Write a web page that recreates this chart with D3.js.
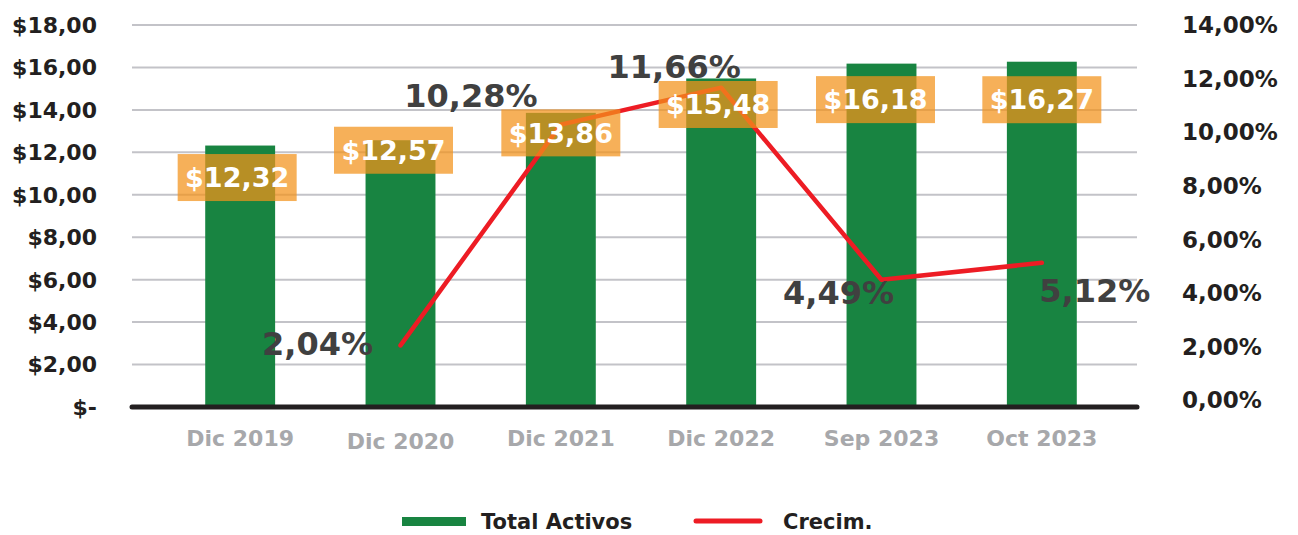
<!DOCTYPE html>
<html>
<head>
<meta charset="utf-8">
<script src="https://cdn.jsdelivr.net/npm/d3@7"></script>
<style>
  body { margin: 0; background: #fff; }
  text { font-family: "DejaVu Sans", sans-serif; font-weight: bold; }
</style>
</head>
<body>
<div id="chart"></div>
<script>
// Data
const categories = ["Dic 2019", "Dic 2020", "Dic 2021", "Dic 2022", "Sep 2023", "Oct 2023"];
const totalActivos = [12.32, 12.57, 13.86, 15.48, 16.18, 16.27];
const crecimCats = ["Dic 2020", "Dic 2021", "Dic 2022", "Sep 2023", "Oct 2023"];
const crecim = [2.04, 10.28, 11.66, 4.49, 5.12];
const leftTicks = [0, 2, 4, 6, 8, 10, 12, 14, 16, 18];
const rightTicks = [0, 2, 4, 6, 8, 10, 12, 14];

// label nudges (px), hand placed like the original
const boxNudge = [[-3, 32], [-7, 10], [0, 20], [-3, 26], [-6, 36], [0, 38]];
const pctNudge = [[-83, -2], [-90, -29], [-47, -21], [-43, 13], [53, 28]];

const width = 1298, height = 535;
const plotLeft = 132, plotRight = 1137;

const svg = d3.select("#chart")
  .append("svg")
  .attr("width", width)
  .attr("height", height);

const x = d3.scaleBand()
  .domain(categories)
  .range([160, 1122])
  .paddingInner(0.564)
  .paddingOuter(0.282);

const yL = d3.scaleLinear().domain([0, 18]).range([407, 25]);
const yR = d3.scaleLinear().domain([0, 14]).range([400, 25]);

const fmt = v => v.toFixed(2).replace(".", ",");
const cx = c => x(c) + x.bandwidth() / 2;

// Gridlines
svg.append("g")
  .selectAll("line")
  .data(leftTicks.filter(d => d > 0))
  .enter().append("line")
  .attr("x1", plotLeft)
  .attr("x2", plotRight)
  .attr("y1", d => yL(d))
  .attr("y2", d => yL(d))
  .attr("stroke", "#c3c3c8")
  .attr("stroke-width", 2);

// Left axis labels
svg.append("g")
  .selectAll("text")
  .data(leftTicks)
  .enter().append("text")
  .attr("x", 97)
  .attr("y", d => yL(d))
  .attr("dy", "0.36em")
  .attr("text-anchor", "end")
  .attr("font-size", 22)
  .attr("fill", "#231f20")
  .text(d => d === 0 ? "$-" : "$" + fmt(d));

// Right axis labels
svg.append("g")
  .selectAll("text")
  .data(rightTicks)
  .enter().append("text")
  .attr("x", 1182)
  .attr("y", d => yR(d))
  .attr("dy", "0.36em")
  .attr("font-size", 23)
  .attr("fill", "#231f20")
  .text(d => fmt(d) + "%");

// Bars
svg.append("g")
  .selectAll("rect")
  .data(totalActivos)
  .enter().append("rect")
  .attr("x", (d, i) => x(categories[i]))
  .attr("y", d => yL(d))
  .attr("width", x.bandwidth())
  .attr("height", d => yL(0) - yL(d))
  .attr("fill", "#188441");

// Baseline
svg.append("line")
  .attr("x1", plotLeft)
  .attr("x2", plotRight)
  .attr("y1", yL(0))
  .attr("y2", yL(0))
  .attr("stroke", "#231f20")
  .attr("stroke-width", 5)
  .attr("stroke-linecap", "round");

// X labels
svg.append("g")
  .selectAll("text")
  .data(categories)
  .enter().append("text")
  .attr("x", d => cx(d))
  .attr("y", (d, i) => i === 1 ? 441 : 438)
  .attr("dy", "0.36em")
  .attr("text-anchor", "middle")
  .attr("font-size", 22)
  .attr("fill", "#a7a8ab")
  .text(d => d);

// Growth line
const line = d3.line()
  .x((d, i) => cx(crecimCats[i]))
  .y(d => yR(d));

svg.append("path")
  .datum(crecim)
  .attr("d", line)
  .attr("fill", "none")
  .attr("stroke", "#ed1c24")
  .attr("stroke-width", 4.5)
  .attr("stroke-linecap", "round")
  .attr("stroke-linejoin", "round");

// Value boxes
const boxW = 119, boxH = 47;
const boxes = svg.append("g")
  .selectAll("g")
  .data(totalActivos)
  .enter().append("g")
  .attr("transform", (d, i) =>
    `translate(${cx(categories[i]) + boxNudge[i][0]},${yL(d) + boxNudge[i][1]})`);

boxes.append("rect")
  .attr("x", -boxW / 2)
  .attr("y", -boxH / 2)
  .attr("width", boxW)
  .attr("height", boxH)
  .attr("fill", "#f3931b")
  .attr("fill-opacity", 0.73);

boxes.append("text")
  .attr("text-anchor", "middle")
  .attr("dy", "0.36em")
  .attr("font-size", 27)
  .attr("fill", "#ffffff")
  .text(d => "$" + fmt(d));

// Growth labels
svg.append("g")
  .selectAll("text")
  .data(crecim)
  .enter().append("text")
  .attr("x", (d, i) => cx(crecimCats[i]) + pctNudge[i][0])
  .attr("y", (d, i) => yR(d) + pctNudge[i][1])
  .attr("dy", "0.36em")
  .attr("text-anchor", "middle")
  .attr("font-size", 32)
  .attr("fill", "#404040")
  .text(d => fmt(d) + "%");

// Legend
const legend = svg.append("g");
legend.append("rect")
  .attr("x", 402).attr("y", 517)
  .attr("width", 64).attr("height", 9)
  .attr("fill", "#188441");
legend.append("text")
  .attr("x", 481).attr("y", 521)
  .attr("dy", "0.36em")
  .attr("font-size", 21)
  .attr("fill", "#231f20")
  .text("Total Activos");
legend.append("line")
  .attr("x1", 696).attr("x2", 760)
  .attr("y1", 521).attr("y2", 521)
  .attr("stroke", "#ed1c24")
  .attr("stroke-width", 5)
  .attr("stroke-linecap", "round");
legend.append("text")
  .attr("x", 783).attr("y", 521)
  .attr("dy", "0.36em")
  .attr("font-size", 21)
  .attr("fill", "#231f20")
  .text("Crecim.");
</script>
</body>
</html>
